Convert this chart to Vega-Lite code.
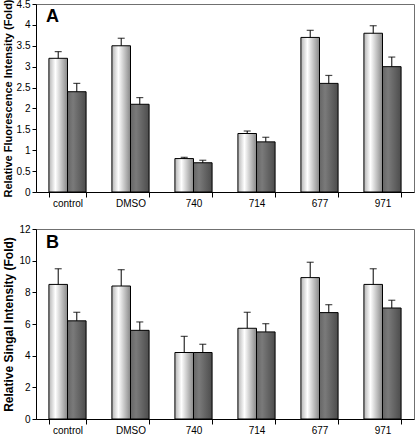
{
  "$schema": "https://vega.github.io/schema/vega-lite/v6.json",
  "padding": {"left": 1, "top": -2, "right": 1, "bottom": 0},
  "spacing": 14,
  "datasets": {
    "bars": [
      {"panel": "A", "treatment": "control", "series": "light", "value": 3.2, "upper": 3.36},
      {"panel": "A", "treatment": "control", "series": "dark", "value": 2.4, "upper": 2.6},
      {"panel": "A", "treatment": "DMSO", "series": "light", "value": 3.5, "upper": 3.68},
      {"panel": "A", "treatment": "DMSO", "series": "dark", "value": 2.1, "upper": 2.26},
      {"panel": "A", "treatment": "740", "series": "light", "value": 0.8, "upper": 0.83},
      {"panel": "A", "treatment": "740", "series": "dark", "value": 0.7, "upper": 0.76},
      {"panel": "A", "treatment": "714", "series": "light", "value": 1.4, "upper": 1.46},
      {"panel": "A", "treatment": "714", "series": "dark", "value": 1.2, "upper": 1.31},
      {"panel": "A", "treatment": "677", "series": "light", "value": 3.7, "upper": 3.87},
      {"panel": "A", "treatment": "677", "series": "dark", "value": 2.6, "upper": 2.79},
      {"panel": "A", "treatment": "971", "series": "light", "value": 3.8, "upper": 3.98},
      {"panel": "A", "treatment": "971", "series": "dark", "value": 3.0, "upper": 3.23},
      {"panel": "B", "treatment": "control", "series": "light", "value": 8.5, "upper": 9.49},
      {"panel": "B", "treatment": "control", "series": "dark", "value": 6.2, "upper": 6.74},
      {"panel": "B", "treatment": "DMSO", "series": "light", "value": 8.4, "upper": 9.43},
      {"panel": "B", "treatment": "DMSO", "series": "dark", "value": 5.6, "upper": 6.13},
      {"panel": "B", "treatment": "740", "series": "light", "value": 4.2, "upper": 5.22},
      {"panel": "B", "treatment": "740", "series": "dark", "value": 4.2, "upper": 4.72},
      {"panel": "B", "treatment": "714", "series": "light", "value": 5.73, "upper": 6.74},
      {"panel": "B", "treatment": "714", "series": "dark", "value": 5.5, "upper": 6.02},
      {"panel": "B", "treatment": "677", "series": "light", "value": 8.93, "upper": 9.9},
      {"panel": "B", "treatment": "677", "series": "dark", "value": 6.72, "upper": 7.22},
      {"panel": "B", "treatment": "971", "series": "light", "value": 8.5, "upper": 9.49},
      {"panel": "B", "treatment": "971", "series": "dark", "value": 7.01, "upper": 7.5}
    ],
    "labels": [
      {"panel": "A", "label": "A", "treatment": "control", "pos": 4.19},
      {"panel": "B", "label": "B", "treatment": "control", "pos": 11.1}
    ]
  },
  "vconcat": [
    {
      "width": 378,
      "height": 188,
      "data": {"name": "bars"},
      "transform": [{"filter": "datum.panel === 'A'"}],
      "encoding": {
        "x": {
          "field": "treatment", "type": "nominal", "sort": null,
          "scale": {"domain": ["control", "DMSO", "740", "714", "677", "971"], "paddingInner": 0.41, "paddingOuter": 0.205},
          "axis": {"title": null, "labelAngle": 0, "tickBand": "extent", "tickSize": 5, "labelPadding": 1}
        },
        "xOffset": {"field": "series", "type": "nominal", "scale": {"domain": ["light", "dark"], "paddingInner": 0, "paddingOuter": 0}},
        "y": {
          "field": "value", "type": "quantitative",
          "scale": {"domain": [0, 4.5], "nice": false},
          "axis": {"title": "Relative Fluorescence Intensity (Fold)", "titleFontSize": 11, "values": [0, 0.5, 1, 1.5, 2, 2.5, 3, 3.5, 4, 4.5], "format": ".1~f"}
        }
      },
      "layer": [
        {
          "transform": [{"filter": "datum.series === 'light'"}],
          "mark": {"type": "bar", "stroke": "#000000", "strokeWidth": 1,
            "fill": {"gradient": "linear", "x1": 0, "y1": 0, "x2": 1, "y2": 0,
              "stops": [{"offset": 0, "color": "#b4b4b4"}, {"offset": 0.35, "color": "#ffffff"}, {"offset": 1, "color": "#888888"}]}}
        },
        {
          "transform": [{"filter": "datum.series === 'dark'"}],
          "mark": {"type": "bar", "stroke": "#000000", "strokeWidth": 1,
            "fill": {"gradient": "linear", "x1": 0, "y1": 0, "x2": 1, "y2": 0,
              "stops": [{"offset": 0, "color": "#666666"}, {"offset": 0.3, "color": "#7a7a7a"}, {"offset": 1, "color": "#4c4c4c"}]}}
        },
        {
          "mark": {"type": "rule", "color": "#000000", "strokeWidth": 1},
          "encoding": {"y2": {"field": "upper"}}
        },
        {
          "mark": {"type": "tick", "color": "#000000", "thickness": 1.2, "size": 7},
          "encoding": {"y": {"field": "upper", "type": "quantitative"}}
        },
        {
          "data": {"name": "labels"},
          "transform": [{"filter": "datum.panel === 'A'"}],
          "mark": {"type": "text", "fontSize": 18, "fontWeight": "bold", "align": "left", "baseline": "middle", "dx": -3, "color": "#000000"},
          "encoding": {
            "x": {"field": "treatment", "type": "nominal", "bandPosition": 0},
            "xOffset": null,
            "y": {"field": "pos", "type": "quantitative"},
            "text": {"field": "label"}
          }
        }
      ]
    },
    {
      "width": 378,
      "height": 190,
      "data": {"name": "bars"},
      "transform": [{"filter": "datum.panel === 'B'"}],
      "encoding": {
        "x": {
          "field": "treatment", "type": "nominal", "sort": null,
          "scale": {"domain": ["control", "DMSO", "740", "714", "677", "971"], "paddingInner": 0.41, "paddingOuter": 0.205},
          "axis": {"title": null, "labelAngle": 0, "tickBand": "extent", "tickSize": 5, "labelPadding": 1}
        },
        "xOffset": {"field": "series", "type": "nominal", "scale": {"domain": ["light", "dark"], "paddingInner": 0, "paddingOuter": 0}},
        "y": {
          "field": "value", "type": "quantitative",
          "scale": {"domain": [0, 12], "nice": false},
          "axis": {"title": "Relative Singal Intensity (Fold)", "titleFontSize": 12, "values": [0, 2, 4, 6, 8, 10, 12]}
        }
      },
      "layer": [
        {
          "transform": [{"filter": "datum.series === 'light'"}],
          "mark": {"type": "bar", "stroke": "#000000", "strokeWidth": 1,
            "fill": {"gradient": "linear", "x1": 0, "y1": 0, "x2": 1, "y2": 0,
              "stops": [{"offset": 0, "color": "#b4b4b4"}, {"offset": 0.35, "color": "#ffffff"}, {"offset": 1, "color": "#888888"}]}}
        },
        {
          "transform": [{"filter": "datum.series === 'dark'"}],
          "mark": {"type": "bar", "stroke": "#000000", "strokeWidth": 1,
            "fill": {"gradient": "linear", "x1": 0, "y1": 0, "x2": 1, "y2": 0,
              "stops": [{"offset": 0, "color": "#666666"}, {"offset": 0.3, "color": "#7a7a7a"}, {"offset": 1, "color": "#4c4c4c"}]}}
        },
        {
          "mark": {"type": "rule", "color": "#000000", "strokeWidth": 1},
          "encoding": {"y2": {"field": "upper"}}
        },
        {
          "mark": {"type": "tick", "color": "#000000", "thickness": 1.2, "size": 7},
          "encoding": {"y": {"field": "upper", "type": "quantitative"}}
        },
        {
          "data": {"name": "labels"},
          "transform": [{"filter": "datum.panel === 'B'"}],
          "mark": {"type": "text", "fontSize": 18, "fontWeight": "bold", "align": "left", "baseline": "middle", "dx": -3, "color": "#000000"},
          "encoding": {
            "x": {"field": "treatment", "type": "nominal", "bandPosition": 0},
            "xOffset": null,
            "y": {"field": "pos", "type": "quantitative"},
            "text": {"field": "label"}
          }
        }
      ]
    }
  ],
  "config": {
    "font": "Liberation Sans",
    "view": {"stroke": "#707070", "strokeWidth": 1},
    "axis": {
      "grid": false,
      "domainColor": "#000000",
      "tickColor": "#000000",
      "labelColor": "#000000",
      "titleColor": "#000000",
      "labelFontSize": 10,
      "titleFontWeight": "bold"
    },
    "axisY": {"tickSize": 4, "labelPadding": 2, "titlePadding": 3}
  }
}
